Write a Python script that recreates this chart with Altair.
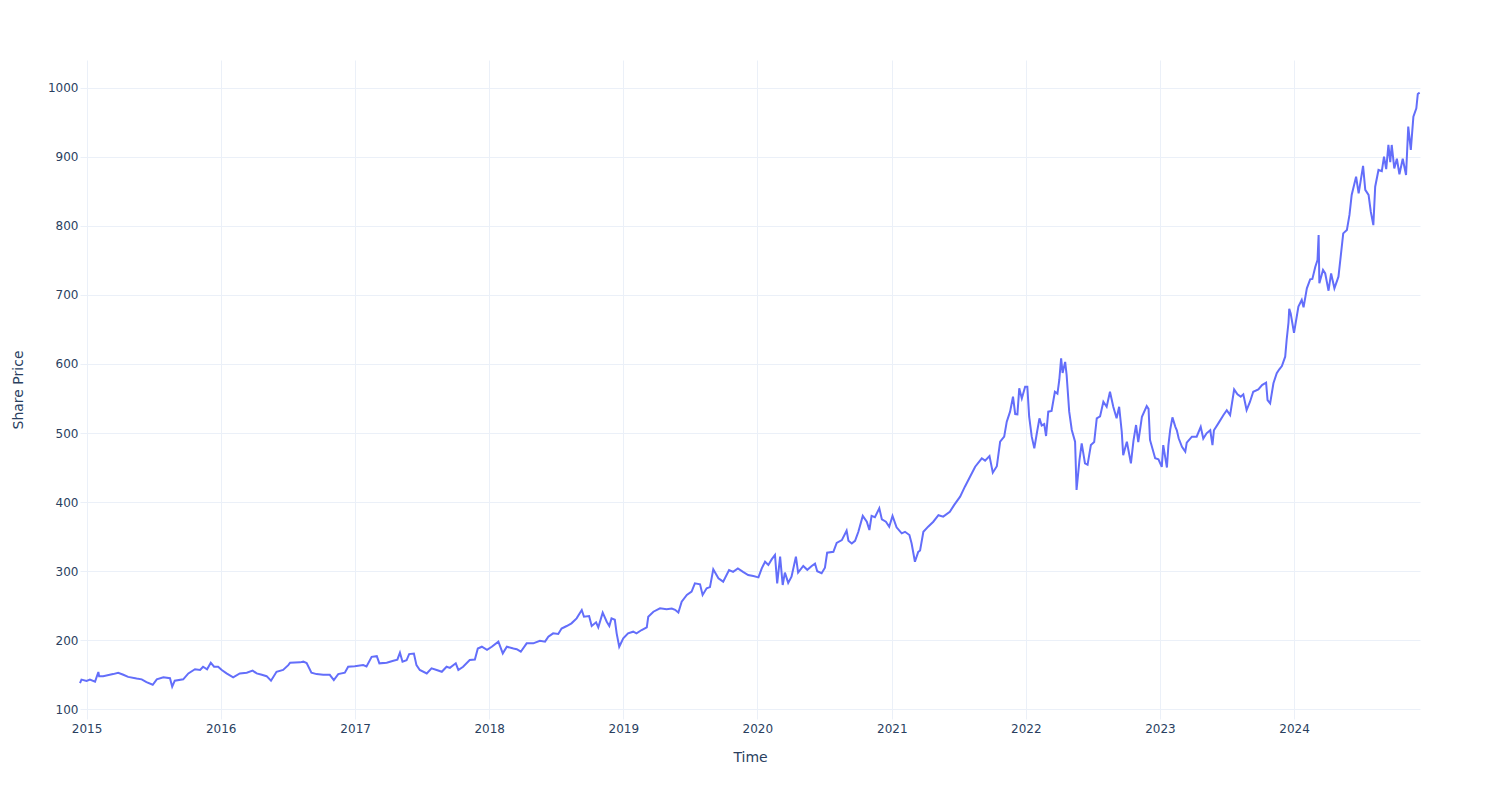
import altair as alt
import pandas as pd

dates = [
    "2014-12-14", "2014-12-18", "2015-01-01", "2015-01-10", "2015-01-24", "2015-02-02", "2015-02-04",
    "2015-02-15", "2015-03-14", "2015-03-28", "2015-04-11", "2015-04-24", "2015-05-17", "2015-05-31",
    "2015-06-13", "2015-06-30", "2015-07-11", "2015-07-29", "2015-08-16", "2015-08-22", "2015-08-29",
    "2015-09-21", "2015-10-05", "2015-10-23", "2015-11-06", "2015-11-14", "2015-11-25", "2015-12-05",
    "2015-12-14", "2015-12-25", "2016-01-04", "2016-01-17", "2016-02-04", "2016-02-22", "2016-03-12",
    "2016-03-28", "2016-04-08", "2016-04-22", "2016-05-05", "2016-05-17", "2016-06-01", "2016-06-19",
    "2016-07-03", "2016-07-08", "2016-08-04", "2016-08-13", "2016-08-22", "2016-09-04", "2016-09-18",
    "2016-10-06", "2016-10-24", "2016-11-04", "2016-11-16", "2016-12-04", "2016-12-13", "2016-12-31",
    "2017-01-23", "2017-02-01", "2017-02-15", "2017-03-01", "2017-03-08", "2017-03-28", "2017-04-15",
    "2017-04-26", "2017-05-03", "2017-05-10", "2017-05-21", "2017-05-28", "2017-06-10", "2017-06-17",
    "2017-06-26", "2017-07-15", "2017-07-28", "2017-08-11", "2017-08-25", "2017-09-07", "2017-09-16",
    "2017-10-02", "2017-10-09", "2017-10-22", "2017-11-09", "2017-11-23", "2017-12-01", "2017-12-12",
    "2017-12-26", "2018-01-08", "2018-01-26", "2018-02-07", "2018-02-18", "2018-03-08", "2018-03-17",
    "2018-03-28", "2018-04-13", "2018-05-01", "2018-05-19", "2018-06-02", "2018-06-11", "2018-06-24",
    "2018-07-08", "2018-07-17", "2018-07-31", "2018-08-13", "2018-08-27", "2018-09-10", "2018-09-16",
    "2018-09-30", "2018-10-07", "2018-10-19", "2018-10-25", "2018-11-06", "2018-11-17", "2018-11-24",
    "2018-11-30", "2018-12-09", "2018-12-14", "2018-12-21", "2019-01-01", "2019-01-14", "2019-01-28",
    "2019-02-06", "2019-02-20", "2019-03-06", "2019-03-10", "2019-03-24", "2019-04-11", "2019-04-29",
    "2019-05-13", "2019-05-22", "2019-05-31", "2019-06-09", "2019-06-23", "2019-07-06", "2019-07-15",
    "2019-07-29", "2019-08-05", "2019-08-16", "2019-08-25", "2019-09-03", "2019-09-17", "2019-09-30",
    "2019-10-16", "2019-10-27", "2019-11-09", "2019-11-23", "2019-12-07", "2019-12-21", "2020-01-04",
    "2020-01-13", "2020-01-22", "2020-01-31", "2020-02-09", "2020-02-18", "2020-02-24", "2020-03-03",
    "2020-03-10", "2020-03-16", "2020-03-25", "2020-04-03", "2020-04-15", "2020-04-21", "2020-05-05",
    "2020-05-16", "2020-05-28", "2020-06-06", "2020-06-12", "2020-06-24", "2020-07-03", "2020-07-09",
    "2020-07-26", "2020-08-04", "2020-08-18", "2020-08-31", "2020-09-05", "2020-09-14", "2020-09-23",
    "2020-10-02", "2020-10-14", "2020-10-25", "2020-11-01", "2020-11-07", "2020-11-16", "2020-11-28",
    "2020-12-05", "2020-12-16", "2020-12-25", "2021-01-03", "2021-01-14", "2021-01-28", "2021-02-06",
    "2021-02-18", "2021-02-24", "2021-03-05", "2021-03-14", "2021-03-19", "2021-03-28", "2021-04-10",
    "2021-04-24", "2021-05-08", "2021-05-21", "2021-06-08", "2021-06-20", "2021-07-06", "2021-07-19",
    "2021-08-02", "2021-08-16", "2021-09-03", "2021-09-12", "2021-09-24", "2021-10-03", "2021-10-14",
    "2021-10-23", "2021-11-03", "2021-11-10", "2021-11-19", "2021-11-27", "2021-12-03", "2021-12-09",
    "2021-12-14", "2021-12-21", "2021-12-30", "2022-01-05", "2022-01-10", "2022-01-17", "2022-01-24",
    "2022-01-31", "2022-02-07", "2022-02-13", "2022-02-20", "2022-02-25", "2022-03-03", "2022-03-12",
    "2022-03-21", "2022-03-28", "2022-04-02", "2022-04-07", "2022-04-11", "2022-04-18", "2022-04-22",
    "2022-04-29", "2022-05-06", "2022-05-15", "2022-05-19", "2022-05-27", "2022-06-02", "2022-06-11",
    "2022-06-18", "2022-06-27", "2022-07-06", "2022-07-13", "2022-07-22", "2022-07-31", "2022-08-09",
    "2022-08-18", "2022-08-27", "2022-09-05", "2022-09-12", "2022-09-19", "2022-09-23", "2022-10-03",
    "2022-10-14", "2022-10-21", "2022-10-28", "2022-11-03", "2022-11-13", "2022-11-26", "2022-12-01",
    "2022-12-05", "2022-12-19", "2022-12-28", "2023-01-06", "2023-01-10", "2023-01-20", "2023-01-24",
    "2023-01-29", "2023-02-04", "2023-02-12", "2023-02-16", "2023-02-21", "2023-03-02", "2023-03-11",
    "2023-03-15", "2023-03-29", "2023-04-11", "2023-04-22", "2023-04-29", "2023-05-08", "2023-05-18",
    "2023-05-24", "2023-05-28", "2023-06-09", "2023-06-23", "2023-07-02", "2023-07-11", "2023-07-22",
    "2023-07-31", "2023-08-09", "2023-08-16", "2023-08-25", "2023-09-03", "2023-09-12", "2023-09-26",
    "2023-10-06", "2023-10-17", "2023-10-21", "2023-10-28", "2023-11-06", "2023-11-15", "2023-11-22",
    "2023-11-29", "2023-12-08", "2023-12-12", "2023-12-17", "2023-12-19", "2023-12-23", "2024-01-01",
    "2024-01-13", "2024-01-22", "2024-01-27", "2024-02-05", "2024-02-14", "2024-02-20", "2024-02-28",
    "2024-03-05", "2024-03-08", "2024-03-10", "2024-03-20", "2024-03-26", "2024-04-04", "2024-04-11",
    "2024-04-20", "2024-05-01", "2024-05-07", "2024-05-14", "2024-05-24", "2024-05-31", "2024-06-06",
    "2024-06-18", "2024-06-25", "2024-07-07", "2024-07-13", "2024-07-22", "2024-07-28", "2024-08-04",
    "2024-08-09", "2024-08-18", "2024-08-27", "2024-09-02", "2024-09-08", "2024-09-14", "2024-09-19",
    "2024-09-23", "2024-09-30", "2024-10-07", "2024-10-14", "2024-10-23", "2024-11-01", "2024-11-07",
    "2024-11-14", "2024-11-21", "2024-11-29", "2024-12-03", "2024-12-08",
]

prices = [
    138.0, 143.0, 141.0, 143.0, 140.0, 154.0, 148.0,
    148.0, 151.0, 153.0, 150.0, 147.0, 144.5, 143.4,
    139.5, 135.6, 143.4, 146.3, 145.0, 132.7, 141.5,
    143.4, 152.0, 158.0, 157.0, 161.7, 158.0, 167.5,
    161.7, 161.7, 157.0, 152.0, 146.3, 152.0, 153.0,
    156.0, 152.0, 150.0, 148.0, 141.4, 154.4, 157.0,
    164.0, 167.5, 168.0, 169.0, 167.0, 153.0, 151.0,
    150.0, 150.0, 142.4, 151.0, 153.0, 161.7, 162.4,
    164.0, 162.0, 176.0, 177.0, 166.6, 167.5, 170.4,
    172.0, 182.0, 169.0, 171.0, 180.0, 180.7, 164.0,
    157.0, 152.0, 159.4, 157.0, 154.4, 161.7, 160.0,
    166.6, 157.0, 161.7, 171.4, 172.0, 188.0, 190.6,
    186.0, 190.6, 198.0, 181.0, 190.6, 188.0, 187.0,
    183.4, 195.5, 195.5, 199.3, 198.0, 205.0, 210.0,
    209.0, 217.0, 220.6, 224.5, 231.7, 243.8, 234.0,
    235.0, 220.6, 226.0, 218.7, 239.9, 226.8, 220.6,
    231.7, 229.6, 210.0, 190.6, 202.8, 210.0, 212.4,
    210.0, 214.8, 218.7, 234.0, 241.3, 246.2, 245.0,
    246.0, 244.0, 240.0, 255.8, 265.5, 270.3, 282.4,
    281.0, 265.5, 275.2, 277.0, 302.7, 289.7, 284.8,
    301.7, 299.0, 304.0, 299.0, 294.4, 293.0, 291.0,
    304.0, 313.7, 309.0, 317.0, 323.4, 282.4, 321.0,
    280.0, 298.0, 283.0, 292.0, 321.0, 298.0, 307.5,
    302.0, 307.5, 311.0, 300.0, 297.0, 305.0, 326.7,
    328.0, 341.0, 345.0, 358.6, 344.0, 340.0, 344.0,
    357.0, 380.0, 371.6, 359.6, 380.0, 378.0, 391.0,
    375.0, 371.6, 364.4, 380.0, 363.5, 354.8, 357.0,
    352.3, 340.0, 313.7, 328.0, 330.0, 357.0, 364.4,
    371.6, 381.0, 379.0, 386.0, 396.0, 407.8, 422.3,
    436.8, 451.2, 463.4, 460.0, 466.7, 442.6, 452.0,
    487.4, 494.7, 516.4, 530.9, 552.6, 527.5, 527.0,
    564.7, 550.0, 567.0, 567.0, 523.6, 494.7, 478.0,
    500.0, 521.3, 511.0, 513.0, 495.7, 530.9, 532.0,
    559.8, 557.0, 576.8, 608.2, 587.0, 603.0, 584.0,
    530.9, 504.4, 487.4, 417.5, 461.0, 485.0, 456.0,
    454.0, 482.7, 487.0, 521.3, 524.0, 545.3, 538.0,
    559.8, 538.0, 521.3, 538.0, 502.0, 468.0, 487.4,
    456.0, 489.0, 511.6, 487.0, 523.6, 539.0, 535.0,
    490.0, 463.4, 462.0, 451.0, 482.6, 450.0, 482.0,
    505.0, 522.7, 509.0, 504.0, 492.4, 480.0, 473.0,
    486.0, 494.7, 494.7, 509.0, 492.0, 499.6, 504.0,
    482.6, 504.0, 514.0, 526.0, 533.0, 526.0, 563.0,
    556.0, 552.6, 556.0, 533.3, 545.0, 559.8, 563.0,
    569.5, 572.8, 547.8, 543.0, 572.0, 586.5, 592.3,
    597.0, 610.5, 635.0, 660.0, 680.0, 673.0, 645.0,
    683.0, 692.6, 682.0, 709.5, 722.5, 723.0, 740.8,
    750.5, 786.7, 716.8, 736.0, 731.0, 706.0, 731.0,
    709.5, 726.3, 755.0, 789.0, 794.0, 815.7, 844.6,
    871.0, 847.0, 886.6, 852.0, 844.6, 820.4, 801.0,
    856.6, 880.8, 879.0, 900.0, 882.0, 917.0, 892.0,
    917.0, 883.0, 897.0, 874.6, 897.0, 873.6, 943.5,
    909.8, 958.0, 970.0, 990.8, 992.7,
]

tick_years = [2015, 2016, 2017, 2018, 2019, 2020, 2021, 2022, 2023, 2024]
y_ticks = [100, 200, 300, 400, 500, 600, 700, 800, 900, 1000]

df = pd.DataFrame({"Time": dates, "Share Price": prices})

FONT = "DejaVu Sans"
TXT = "#2a3f5f"

line = alt.Chart(df).mark_line(color="#636efa", strokeWidth=2).encode(
    x=alt.X(
        "Time:T",
        scale=alt.Scale(
            domain=[alt.DateTime(year=2014, month=12, date=14),
                    alt.DateTime(year=2024, month=12, date=9)],
            nice=False,
        ),
        axis=alt.Axis(
            title="Time",
            values=[alt.DateTime(year=y, month=1, date=1) for y in tick_years],
            format="%Y",
            labelPadding=4,
            titlePadding=16,
            labelFlush=False,
            labelOverlap=False,
        ),
    ),
    y=alt.Y(
        "Share Price:Q",
        scale=alt.Scale(domain=[86, 1040], nice=False, zero=False),
        axis=alt.Axis(
            title="Share Price",
            values=y_ticks,
            format="d",
            labelPadding=2,
            titlePadding=22,
            labelFlush=False,
        ),
    ),
)

chart = line.properties(
    width=1340,
    height=659,
    autosize="none",
    padding={"left": 80, "top": 60, "right": 80, "bottom": 81},
    background="white",
).configure_view(stroke=None).configure_axis(
    domain=False,
    ticks=False,
    grid=True,
    gridColor="#EBF0F8",
    gridWidth=1,
    labelFont=FONT,
    labelFontSize=12,
    labelColor=TXT,
    titleFont=FONT,
    titleFontSize=14,
    titleColor=TXT,
    titleFontWeight="normal",
)

chart.save("out.html", embed_options={"renderer": "svg", "actions": False})
